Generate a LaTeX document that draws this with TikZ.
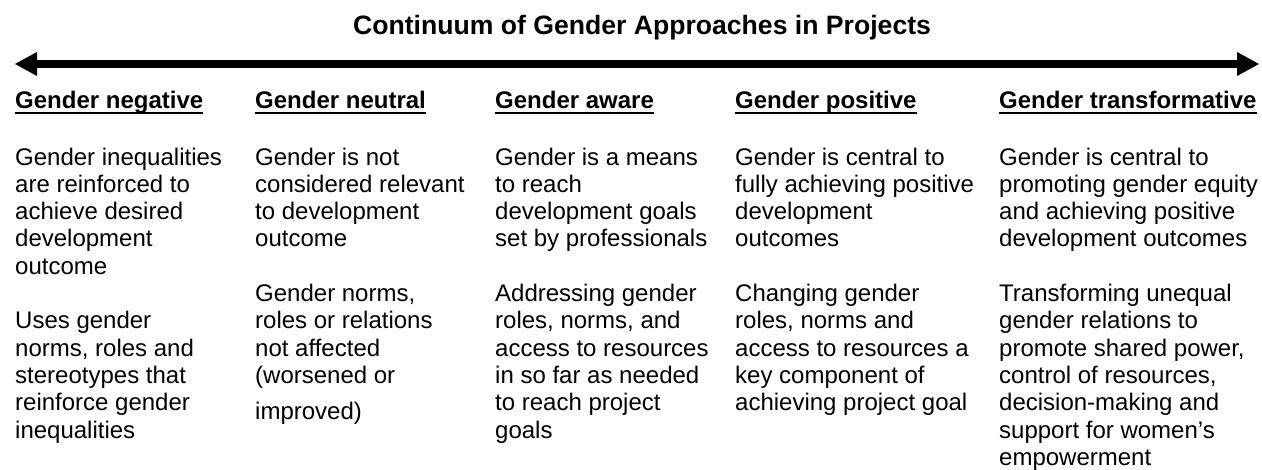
\documentclass[tikz,border=0pt]{standalone}
\usepackage{fontspec}
\setmainfont{Liberation Sans}
\usetikzlibrary{arrows.meta}

\tikzset{
  colhead/.style={anchor=base west, inner sep=0pt, font=\fontsize{24}{27.3}\selectfont\bfseries},
  coltext/.style={anchor=north west, inner sep=0pt, align=left, font=\fontsize{24}{27.3}\selectfont},
  bigtip/.tip={Triangle[length=22pt, width=24pt, line width=0pt]}
}

\begin{document}
\begin{tikzpicture}[x=1pt, y=-1pt]
            \useasboundingbox (0,0) rectangle (1262,470);

            \node[anchor=base, inner sep=0pt, font=\fontsize{26.6}{30}\selectfont\bfseries] (title) at (642,35) {Continuum of Gender Approaches in Projects};

            \coordinate (lend) at (15,64);
            \coordinate (rend) at (1259,64);
            \draw[line width=8pt, bigtip-bigtip] (lend) -- (rend);

            \foreach \i/\x/\h in {1/15/negative, 2/255/neutral, 3/495/aware, 4/735/positive, 5/999/transformative} {
                \node[colhead] (head\i) at (\x,109) {Gender \h};
                \draw[line width=1.5pt] ([yshift=-4pt]head\i.base west) -- ([yshift=-4pt]head\i.base east);
            };

            \node[coltext] (text1) at (15,147.5) {Gender inequalities\\are reinforced to\\achieve desired\\development\\outcome\\[27.3pt]Uses gender\\norms, roles and\\stereotypes that\\reinforce gender\\inequalities};
            \node[coltext] (text2) at (255,147.5) {Gender is not\\considered relevant\\to development\\outcome\\[27.3pt]Gender norms,\\roles or relations\\not affected\\(worsened or\\[9pt]improved)};
            \node[coltext] (text3) at (495,147.5) {Gender is a means\\to reach\\development goals\\set by professionals\\[27.3pt]Addressing gender\\roles, norms, and\\access to resources\\in so far as needed\\to reach project\\goals};
            \node[coltext] (text4) at (735,147.5) {Gender is central to\\fully achieving positive\\development\\outcomes\\[27.3pt]Changing gender\\roles, norms and\\access to resources a\\key component of\\achieving project goal};
            \node[coltext] (text5) at (999,147.5) {Gender is central to\\promoting gender equity\\and achieving positive\\development outcomes\\[27.3pt]Transforming unequal\\gender relations to\\promote shared power,\\control of resources,\\decision-making and\\support for women’s\\empowerment};
        \end{tikzpicture}
\end{document}
